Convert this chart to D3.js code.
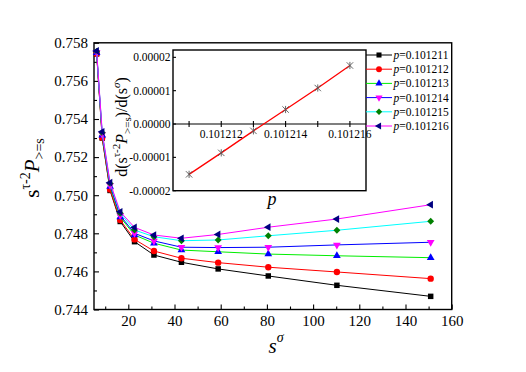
<!DOCTYPE html>
<html><head><meta charset="utf-8">
<script src="https://cdn.jsdelivr.net/npm/d3@7"></script>
</head><body style="margin:0;background:#fff">
<svg id="c" width="526" height="372" font-family="Liberation Serif" style="display:block"></svg>
<script>
// ---------- data ----------
const sSigma = [6.3, 8.7, 12.1, 16.5, 22.7, 31.1, 43.0, 58.9, 80.6, 110.3, 150.9];
const pLabels = ["0.101211", "0.101212", "0.101213", "0.101214", "0.101215", "0.101216"];
const seriesP101211 = [0.75742, 0.75300, 0.75025, 0.74862, 0.74756, 0.74686, 0.74648, 0.74613, 0.74576, 0.74527, 0.74469];
const seriesP101212 = [0.75743, 0.75302, 0.75030, 0.74870, 0.74768, 0.74707, 0.74669, 0.74646, 0.74622, 0.74597, 0.74562];
const seriesP101213 = [0.75748, 0.75315, 0.75045, 0.74885, 0.74791, 0.74748, 0.74712, 0.74703, 0.74691, 0.74682, 0.74672];
const seriesP101214 = [0.75750, 0.75320, 0.75052, 0.74893, 0.74800, 0.74760, 0.74727, 0.74725, 0.74727, 0.74739, 0.74753];
const seriesP101215 = [0.75755, 0.75328, 0.75062, 0.74905, 0.74817, 0.74782, 0.74761, 0.74765, 0.74787, 0.74816, 0.74863];
const seriesP101216 = [0.75757, 0.75333, 0.75066, 0.74913, 0.74831, 0.74791, 0.74774, 0.74794, 0.74832, 0.74875, 0.74950];
const xMajorTicks = [20, 40, 60, 80, 100, 120, 140, 160];
const xMinorTicks = [10, 30, 50, 70, 90, 110, 130, 150];
const yMajorTicks = [0.744, 0.746, 0.748, 0.750, 0.752, 0.754, 0.756, 0.758];
const yMinorTicks = [0.745, 0.747, 0.749, 0.751, 0.753, 0.755, 0.757];

const insetP = [0.101211, 0.101212, 0.101213, 0.101214, 0.101215, 0.101216];
const insetSlope = [-1.51e-5, -0.865e-5, -0.205e-5, 0.435e-5, 1.08e-5, 1.755e-5];
const insetXTicks = [0.101211, 0.101212, 0.101213, 0.101214, 0.101215, 0.101216];
const insetXLabelTicks = [0.101212, 0.101214, 0.101216];
const insetYTicks = [0.00002, 0.00001, 0, -0.00001, -0.00002];
const insetYTickLabels = ["0.00002", "0.00001", "0.00000", "-0.00001", "-0.00002"];

const lineColors = ["#000000", "#ff0000", "#00ee00", "#0000ff", "#00ffff", "#ff00ff"];
const markColors = ["#000000", "#ff0000", "#0000ff", "#ff00ff", "#008000", "#000080"];

// ---------- drawing ----------
const FONT = "Liberation Serif";
const svg = d3.select("#c");
const allSeries = [seriesP101211, seriesP101212, seriesP101213, seriesP101214, seriesP101215, seriesP101216];

const L = 94, R = 451.7, T = 42.8, B = 309.5;
const x = d3.scaleLinear().domain([5.15, 160]).range([L, R]);
const y = d3.scaleLinear().domain([0.744, 0.758]).range([B, T]);

function styleAxis(g, size) {
  g.select(".domain").remove();
  g.attr("font-family", FONT).attr("font-size", size);
  g.selectAll("line").attr("stroke", "#000").attr("stroke-width", 1.1);
  g.selectAll("text").attr("fill", "#000").attr("font-family", FONT);
}

// x axis
svg.append("g").attr("transform", `translate(0,${B})`)
  .call(d3.axisBottom(x).tickValues(xMajorTicks).tickSize(-5).tickPadding(6).tickFormat(d3.format("d")))
  .call(g => styleAxis(g, 15));
svg.append("g").attr("transform", `translate(0,${B})`)
  .call(d3.axisBottom(x).tickValues(xMinorTicks).tickSize(-3).tickFormat(""))
  .call(g => styleAxis(g, 15));
// y axis
svg.append("g").attr("transform", `translate(${L},0)`)
  .call(d3.axisLeft(y).tickValues(yMajorTicks).tickSize(-5).tickPadding(6).tickFormat(d3.format(".3f")))
  .call(g => styleAxis(g, 15));
svg.append("g").attr("transform", `translate(${L},0)`)
  .call(d3.axisLeft(y).tickValues(yMinorTicks).tickSize(-3).tickFormat(""))
  .call(g => styleAxis(g, 15));

// frame
svg.append("rect").attr("x", L).attr("y", T).attr("width", R - L).attr("height", B - T)
  .attr("fill", "none").attr("stroke", "#000").attr("stroke-width", 1.4);

// symbols
function symbolPath(i, scale) {
  const s = scale || 1;
  const defs = [
    [d3.symbolSquare, 30, 0],
    [d3.symbolCircle, 32, 0],
    [d3.symbolTriangle, 26, 0],
    [d3.symbolTriangle, 26, 180],
    [d3.symbolSquare, 24, 45],
    [d3.symbolTriangle, 26, -90]
  ];
  const d = defs[i];
  return {path: d3.symbol().type(d[0]).size(d[1] * s)(), rot: d[2]};
}

const line = d3.line().x((d, j) => x(sSigma[j])).y(d => y(d));
allSeries.forEach((ser, i) => {
  svg.append("path").datum(ser).attr("d", line)
    .attr("fill", "none").attr("stroke", lineColors[i]).attr("stroke-width", 1);
  const sp = symbolPath(i);
  svg.append("g").selectAll("path").data(ser).join("path")
    .attr("d", sp.path)
    .attr("transform", (d, j) => `translate(${x(sSigma[j])},${y(d)}) rotate(${sp.rot})`)
    .attr("fill", markColors[i]);
});

// axis titles
const xt = svg.append("text").attr("x", 276).attr("y", 353).attr("text-anchor", "middle").attr("font-family", FONT);
xt.append("tspan").attr("font-style", "italic").attr("font-size", 21).text("s");
xt.append("tspan").attr("font-style", "italic").attr("font-size", 14).attr("dy", -11).text("σ");

const yt = svg.append("text").attr("transform", "translate(39,168) rotate(-90)").attr("text-anchor", "middle").attr("font-family", FONT);
yt.append("tspan").attr("font-size", 21).text("s");
yt.append("tspan").attr("font-size", 14).attr("dy", -9).text("τ-2");
yt.append("tspan").attr("font-size", 21).attr("font-style", "italic").attr("dy", 9).text("P");
yt.append("tspan").attr("font-size", 14).attr("dy", 5).text(">=s");

// ---------- inset ----------
const iL = 173, iR = 366, iT = 50, iB = 190.7;
const xi = d3.scaleLinear().domain([0.1012105, 0.1012165]).range([iL, iR]);
const yi = d3.scaleLinear().domain([-0.00002, 0.0000222]).range([iB, iT]);

svg.append("rect").attr("x", iL).attr("y", iT).attr("width", iR - iL).attr("height", iB - iT)
  .attr("fill", "#fff").attr("stroke", "#000").attr("stroke-width", 1.4);

const y0 = yi(0);
svg.append("line").attr("x1", iL).attr("x2", iR).attr("y1", y0).attr("y2", y0)
  .attr("stroke", "#000").attr("stroke-width", 1.2);
svg.append("g").selectAll("line").data(insetXTicks).join("line")
  .attr("x1", d => xi(d)).attr("x2", d => xi(d)).attr("y1", y0 - 3).attr("y2", y0 + 3)
  .attr("stroke", "#000").attr("stroke-width", 1.1);
svg.append("g").selectAll("text").data(insetXLabelTicks).join("text")
  .attr("x", d => xi(d)).attr("y", y0 + 13.5).attr("text-anchor", "middle").attr("font-family", FONT)
  .attr("font-size", 11.5).text(d => d3.format(".6f")(d));

svg.append("g").selectAll("line").data(insetYTicks).join("line")
  .attr("x1", iL).attr("x2", iL + 3).attr("y1", d => yi(d)).attr("y2", d => yi(d))
  .attr("stroke", "#000").attr("stroke-width", 1.1);
svg.append("g").selectAll("text").data(insetYTicks).join("text")
  .attr("x", iL - 2.5).attr("y", d => yi(d) + 4).attr("text-anchor", "end").attr("font-family", FONT)
  .attr("font-size", 11.5).text((d, j) => insetYTickLabels[j]);

const iline = d3.line().x((d, j) => xi(insetP[j])).y(d => yi(d));
svg.append("path").datum(insetSlope).attr("d", iline)
  .attr("fill", "none").attr("stroke", "#ff0000").attr("stroke-width", 1.3);
svg.append("g").selectAll("path").data(insetSlope).join("path")
  .attr("d", "M-3.2,-3.2L3.2,3.2M-3.2,3.2L3.2,-3.2M0,-3.6L0,3.6")
  .attr("transform", (d, j) => `translate(${xi(insetP[j])},${yi(d)})`)
  .attr("stroke", "#555").attr("stroke-width", 0.9).attr("fill", "none");

svg.append("text").attr("x", 272).attr("y", 205).attr("text-anchor", "middle").attr("font-family", FONT)
  .attr("font-size", 18).attr("font-style", "italic").text("p");

const it = svg.append("text").attr("transform", "translate(127,127) rotate(-90)").attr("text-anchor", "middle").attr("font-family", FONT);
it.append("tspan").attr("font-size", 16).text("d(s");
it.append("tspan").attr("font-size", 11).attr("dy", -7).text("τ-2");
it.append("tspan").attr("font-size", 16).attr("font-style", "italic").attr("dy", 7).text("P");
it.append("tspan").attr("font-size", 11).attr("dy", 4).text(">=s");
it.append("tspan").attr("font-size", 16).attr("dy", -4).text(")/d(s");
it.append("tspan").attr("font-size", 11).attr("font-style", "italic").attr("dy", -7).text("σ");
it.append("tspan").attr("font-size", 16).attr("dy", 7).text(")");

// ---------- legend ----------
const lg = svg.append("g");
pLabels.forEach((p, i) => {
  const ry = 55 + i * 14.2;
  lg.append("line").attr("x1", 366).attr("x2", 392).attr("y1", ry).attr("y2", ry)
    .attr("stroke", lineColors[i]).attr("stroke-width", 1);
  const sp = symbolPath(i, 0.85);
  lg.append("path").attr("d", sp.path)
    .attr("transform", `translate(379,${ry}) rotate(${sp.rot})`).attr("fill", markColors[i]);
  const t = lg.append("text").attr("x", 393.5).attr("y", ry + 4).attr("font-size", 11.5).attr("font-family", FONT);
  t.append("tspan").attr("font-style", "italic").text("p");
  t.append("tspan").text("=" + p);
});
</script>
</body></html>
